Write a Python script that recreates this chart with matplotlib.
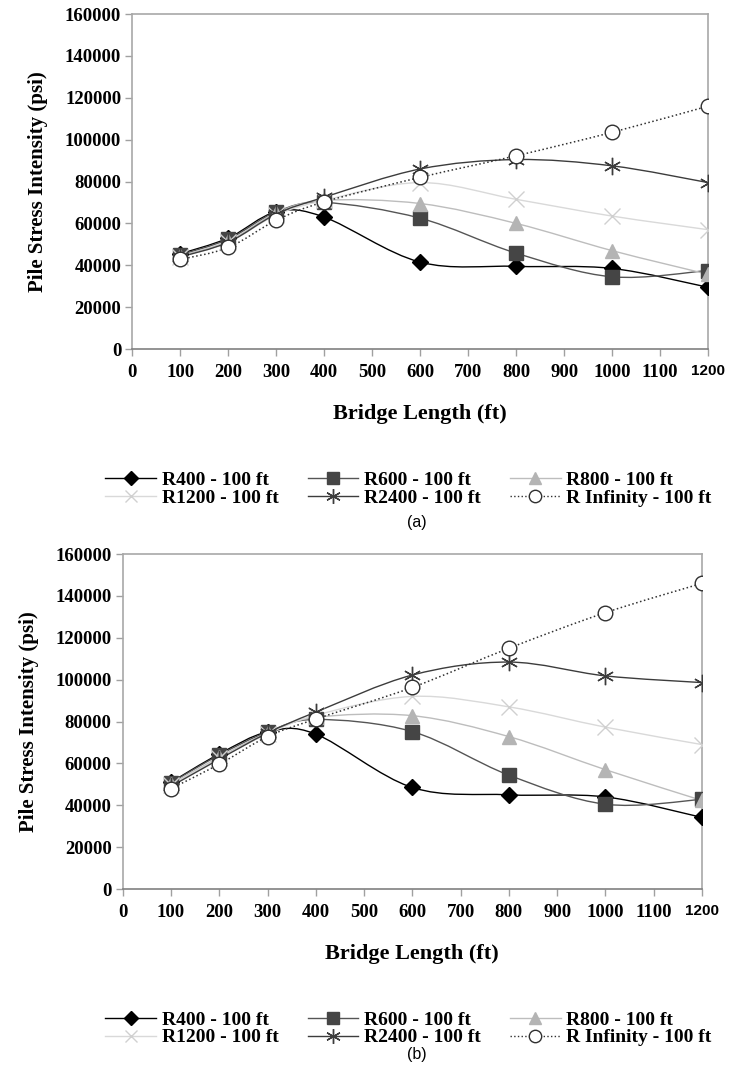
import numpy as np
import matplotlib.pyplot as plt
from matplotlib.path import Path
from matplotlib.patches import PathPatch
from matplotlib.lines import Line2D

plt.rcParams['font.family'] = ['Liberation Serif', 'DejaVu Serif']

# bridge lengths (ft)
L = np.array([100, 200, 300, 400, 600, 800, 1000, 1200])

# (a) pile stress intensity (psi)
a_R400 = [45500, 53000, 65500, 63000, 41500, 39500, 38500, 29500]
a_R600 = [45000, 52500, 65500, 70000, 62500, 45800, 34500, 37500]
a_R800 = [44500, 51500, 65000, 71000, 69500, 60000, 47000, 35700]
a_R1200 = [44000, 51000, 64000, 71000, 79500, 71500, 63500, 57000]
a_R2400 = [44000, 51000, 64500, 72500, 86000, 90500, 87500, 79500]
a_RInf = [42800, 48500, 61500, 70300, 82000, 92300, 103500, 116000]

# (b) pile stress intensity (psi)
b_R400 = [51000, 64500, 75000, 74000, 48500, 45000, 44000, 34200]
b_R600 = [50800, 64000, 75000, 81000, 75200, 54400, 40500, 42800]
b_R800 = [50000, 63000, 74500, 82000, 82800, 72800, 57000, 42300]
b_R1200 = [49500, 62500, 74000, 83000, 92000, 87000, 77300, 69000]
b_R2400 = [49000, 62000, 74500, 84500, 102200, 108400, 101800, 98600]
b_RInf = [48000, 59600, 72800, 81200, 96300, 115000, 132000, 146000]

names = ["R400 - 100 ft", "R600 - 100 ft", "R800 - 100 ft",
         "R1200 - 100 ft", "R2400 - 100 ft", "R Infinity - 100 ft"]

styles = [
    dict(color="black", marker="D", mfc="black", mec="black", ms=8.5, ls="-"),
    dict(color="#555555", marker="s", mfc="#454545", mec="#454545", ms=9.5, ls="-"),
    dict(color="#bdbdbd", marker="^", mfc="#b4b4b4", mec="#b4b4b4", ms=10.5, ls="-"),
    dict(color="#d9d9d9", marker="x", mfc="none", mec="#d0d0d0", ms=11, ls="-"),
    dict(color="#3c3c3c", marker=(6, 2, 0), mfc="none", mec="#3c3c3c", ms=12.5, ls="-"),
    dict(color="#303030", marker="o", mfc="white", mec="#303030", ms=10.5, ls=":"),
]


def smooth_path(x, y):
    # bezier segments through every point, like a spreadsheet "smoothed line"
    x = np.asarray(x, float)
    y = np.asarray(y, float)
    n = len(x)
    verts = [(x[0], y[0])]
    codes = [Path.MOVETO]
    for i in range(n - 1):
        p0 = np.array([x[max(i - 1, 0)], y[max(i - 1, 0)]])
        p1 = np.array([x[i], y[i]])
        p2 = np.array([x[i + 1], y[i + 1]])
        p3 = np.array([x[min(i + 2, n - 1)], y[min(i + 2, n - 1)]])
        c1 = p1 + (p2 - p0) / 6.0
        c2 = p2 - (p3 - p1) / 6.0
        verts += [tuple(c1), tuple(c2), tuple(p2)]
        codes += [Path.CURVE4] * 3
    return Path(verts, codes)


def draw_panel(ax, series):
    for vals, st in zip(series, styles):
        lw = 1.0 if st["ls"] == "-" else 1.1
        ax.add_patch(PathPatch(smooth_path(L, vals), fill=False, ec=st["color"],
                               lw=lw, ls=st["ls"], zorder=2))
        ax.plot(L, vals, ls="none", marker=st["marker"], ms=st["ms"],
                mfc=st["mfc"], mec=st["mec"], mew=1.0, zorder=3)
    ax.set_xlim(0, 1200)
    ax.set_ylim(0, 160000)
    ax.set_xticks(np.arange(0, 1201, 100))
    ax.set_yticks(np.arange(0, 160001, 20000))
    labels = [str(v) for v in range(0, 1201, 100)]
    ax.set_xticklabels(labels, fontsize=13.5, fontweight="bold")
    last = ax.get_xticklabels()[-1]
    last.set_family("Liberation Sans")
    last.set_fontsize(11)
    ax.set_yticklabels([str(v) for v in range(0, 160001, 20000)],
                       fontsize=13.5, fontweight="bold")
    for s in ax.spines.values():
        s.set_color("#a8a8a8")
        s.set_linewidth(1.2)
    ax.spines["bottom"].set_color("#808080")
    ax.tick_params(axis="both", color="#a0a0a0", length=5, width=1.0, direction="out")
    ax.tick_params(axis="x", pad=6)
    ax.tick_params(axis="y", pad=3)
    ax.set_xlabel("Bridge Length (ft)", fontsize=16, fontweight="bold", labelpad=16)
    ax.set_ylabel("Pile Stress Intensity (psi)", fontsize=15, fontweight="bold", labelpad=12)


def legend_handles():
    hs = []
    for st in styles:
        hs.append(Line2D([], [], color=st["color"], ls=st["ls"], lw=1.0,
                         marker=st["marker"], ms=st["ms"] * 0.85, mfc=st["mfc"],
                         mec=st["mec"]))
    return hs


fig = plt.figure(figsize=(7.4, 10.71), dpi=100)
ax1 = fig.add_axes([0.1788, 0.6741, 0.778, 0.3128])
ax2 = fig.add_axes([0.1658, 0.1699, 0.7828, 0.3128])

draw_panel(ax1, [a_R400, a_R600, a_R800, a_R1200, a_R2400, a_RInf])
draw_panel(ax2, [b_R400, b_R600, b_R800, b_R1200, b_R2400, b_RInf])

# three columns, filled row by row
order = [0, 3, 1, 4, 2, 5]
hs = legend_handles()
for ycen in (0.5435, 0.0395):
    fig.legend([hs[i] for i in order], [names[i] for i in order], ncol=3,
               loc="center", bbox_to_anchor=(0.552, ycen), frameon=False,
               prop=dict(family="Liberation Serif", weight="bold", size=14),
               handlelength=2.6, handletextpad=0.3, columnspacing=1.5,
               labelspacing=0.0, borderpad=0.0)

fig.text(0.563, 1 - 522 / 1071, "(a)", ha="center", va="center",
         family="Liberation Sans", fontsize=11.5)
fig.text(0.563, 1 - 1055 / 1071, "(b)", ha="center", va="center",
         family="Liberation Sans", fontsize=11.5)

fig.savefig("out.png", dpi=100, facecolor="white")
